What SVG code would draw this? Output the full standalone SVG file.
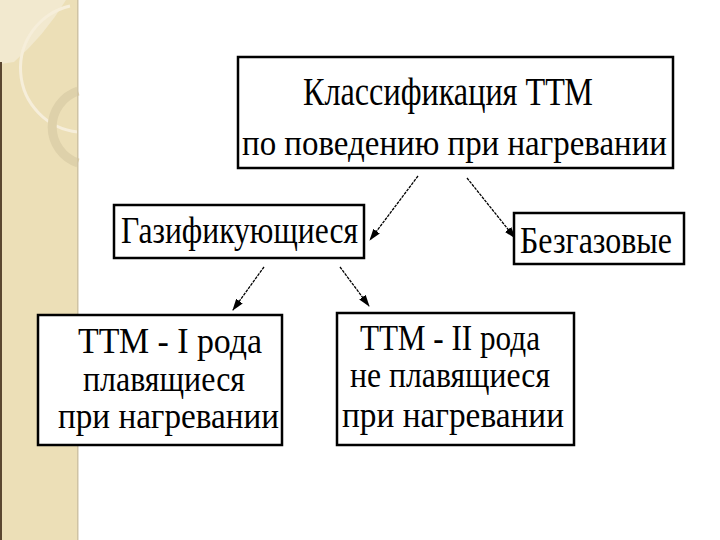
<svg xmlns="http://www.w3.org/2000/svg" width="720" height="540" viewBox="0 0 720 540">
  <style>
    .box { fill: #ffffff; stroke: #000000; stroke-width: 2.5; }
    .t { fill: #000000; font-family: 'Liberation Serif', 'Times New Roman', serif; }
    .conn { stroke: #000000; stroke-width: 1.3; stroke-dasharray: 3 1; fill: none; }
  </style>
  <defs>
    <marker id="ah" viewBox="0 0 12 8" refX="11" refY="4" markerWidth="12" markerHeight="8" markerUnits="userSpaceOnUse" orient="auto">
      <path d="M0,0 L12,4 L0,8 Z" fill="#000000"/>
    </marker>
  </defs>
  <rect x="0" y="0" width="720" height="540" fill="#ffffff"/>
  <g id="sidebar">
    <rect x="0" y="0" width="78" height="540" fill="#ECDFB7"/>
    <path d="M0,0 L66,0 Q44,36 14,62 L0,64 Z" fill="#F2E9CF"/>
    <path d="M70,6 A64,64 0 0 0 78,132" fill="none" stroke="#F6EEDA" stroke-width="3"/>
    <path d="M78,91 A38,38 0 0 0 78,163" fill="none" stroke="#DED1AA" stroke-width="9"/>
    <rect x="0" y="62" width="2" height="478" fill="#5A4630"/>
    <rect x="77" y="0" width="1.5" height="540" fill="#CFC3A4"/>
  </g>
  <g id="connectors">
    <line class="conn" x1="418" y1="176" x2="370" y2="240" marker-end="url(#ah)"/>
    <line class="conn" x1="467" y1="178" x2="515" y2="238" marker-end="url(#ah)"/>
    <line class="conn" x1="264" y1="267" x2="233" y2="310" marker-end="url(#ah)"/>
    <line class="conn" x1="340" y1="267" x2="369" y2="306" marker-end="url(#ah)"/>
  </g>
  <g id="node-root">
    <rect class="box" x="238" y="57" width="435" height="111"/>
    <text class="t" x="303" y="105" font-size="40" textLength="290" lengthAdjust="spacingAndGlyphs">Классификация ТТМ</text>
    <text class="t" x="242" y="155" font-size="35" textLength="425" lengthAdjust="spacingAndGlyphs">по поведению при нагревании</text>
  </g>
  <g id="node-gas">
    <rect class="box" x="114" y="205" width="250" height="53"/>
    <text class="t" x="121" y="243" font-size="38" textLength="237" lengthAdjust="spacingAndGlyphs">Газификующиеся</text>
  </g>
  <g id="node-nogas">
    <rect class="box" x="514" y="213" width="170" height="51"/>
    <text class="t" x="520" y="253" font-size="38" textLength="152" lengthAdjust="spacingAndGlyphs">Безгазовые</text>
  </g>
  <g id="node-ttm1">
    <rect class="box" x="38" y="315" width="244" height="130"/>
    <text class="t" x="78" y="353" font-size="36" textLength="184" lengthAdjust="spacingAndGlyphs">ТТМ - I рода</text>
    <text class="t" x="83" y="391" font-size="36" textLength="162" lengthAdjust="spacingAndGlyphs">плавящиеся</text>
    <text class="t" x="58" y="428" font-size="36" textLength="221" lengthAdjust="spacingAndGlyphs">при нагревании</text>
  </g>
  <g id="node-ttm2">
    <rect class="box" x="337" y="313" width="237" height="132"/>
    <text class="t" x="360" y="350" font-size="36" textLength="180" lengthAdjust="spacingAndGlyphs">ТТМ - II рода</text>
    <text class="t" x="350" y="387" font-size="36" textLength="200" lengthAdjust="spacingAndGlyphs">не плавящиеся</text>
    <text class="t" x="342" y="427" font-size="36" textLength="222" lengthAdjust="spacingAndGlyphs">при нагревании</text>
  </g>
</svg>
